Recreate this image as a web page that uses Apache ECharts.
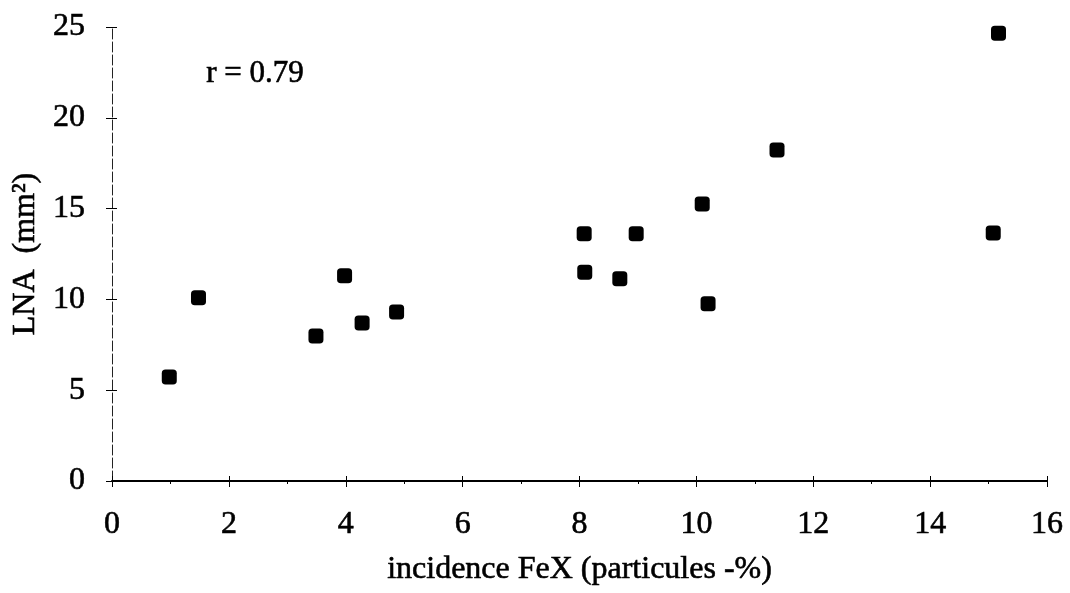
<!DOCTYPE html>
<html>
<head>
<meta charset="utf-8">
<script src="https://cdn.jsdelivr.net/npm/echarts@6/dist/echarts.min.js"></script>
<style>
html,body{margin:0;padding:0;background:#fff;}
#chart{width:1070px;height:593px;}
</style>
</head>
<body>
<div id="chart"></div>
<script>
var xValues = [0.98, 1.48, 3.49, 3.98, 4.28, 4.87, 8.08, 8.09, 8.69, 8.97, 10.10, 10.20, 11.38, 15.08, 15.17];
var yValues = [5.73, 10.09, 7.98, 11.30, 8.70, 9.30, 13.61, 11.50, 11.14, 13.61, 15.26, 9.76, 18.22, 13.66, 24.65];
var xAxisName = 'incidence FeX (particules -%)';
var yAxisName = 'LNA  (mm²)';
var annotation = 'r = 0.79';

var points = xValues.map(function (x, i) { return [x, yValues[i]]; });
var font = '"Liberation Serif", "Times New Roman", serif';
var heavy = { textBorderColor: '#000', textBorderWidth: 0.6 };

var chart = echarts.init(document.getElementById('chart'));
var baseX = {
  type: 'value', min: 0, max: 16, interval: 2, position: 'bottom',
  splitLine: { show: false }
};
var baseY = {
  type: 'value', min: 0, max: 25, interval: 5, position: 'left',
  splitLine: { show: false }
};
chart.setOption({
  animation: false,
  backgroundColor: '#fff',
  grid: { left: 112, right: 23, top: 27, bottom: 112 },
  xAxis: [
    Object.assign({}, baseX, {
      name: xAxisName, nameLocation: 'middle', nameGap: 73,
      nameTextStyle: Object.assign({ fontFamily: font, fontSize: 32, color: '#000' }, heavy),
      axisLine: { show: true, lineStyle: { color: '#000', width: 2 } },
      axisTick: { show: true, length: 6, lineStyle: { color: '#000', width: 1 } },
      minorTick: { show: true, splitNumber: 2, length: 3, lineStyle: { color: '#000', width: 1 } },
      axisLabel: Object.assign({ fontFamily: font, fontSize: 32, color: '#000', margin: 28 }, heavy)
    }),
    Object.assign({}, baseX, {
      axisLine: { show: false },
      axisTick: { show: true, inside: true, length: 5, lineStyle: { color: '#000', width: 1 } },
      axisLabel: { show: false }
    })
  ],
  yAxis: [
    Object.assign({}, baseY, {
      name: yAxisName, nameLocation: 'middle', nameGap: 67, nameRotate: 90,
      nameTextStyle: Object.assign({ fontFamily: font, fontSize: 32, color: '#000' }, heavy),
      axisLine: { show: true, lineStyle: { color: '#222', width: 1, type: [10, 3] } },
      axisTick: { show: true, length: 6, lineStyle: { color: '#000', width: 1 } },
      axisLabel: Object.assign({ fontFamily: font, fontSize: 32, color: '#000', margin: 27 }, heavy)
    }),
    Object.assign({}, baseY, {
      axisLine: { show: false },
      axisTick: { show: true, inside: true, length: 5, lineStyle: { color: '#000', width: 1 } },
      axisLabel: { show: false }
    })
  ],
  graphic: [{
    type: 'text', left: 206, top: 58,
    style: { text: annotation, font: '31px ' + font, fill: '#000', stroke: '#000', lineWidth: 0.6 }
  }],
  series: [{
    type: 'scatter',
    data: points,
    symbol: 'roundRect',
    symbolSize: 15,
    itemStyle: { color: '#000', opacity: 1 }
  }]
});
</script>
</body>
</html>
